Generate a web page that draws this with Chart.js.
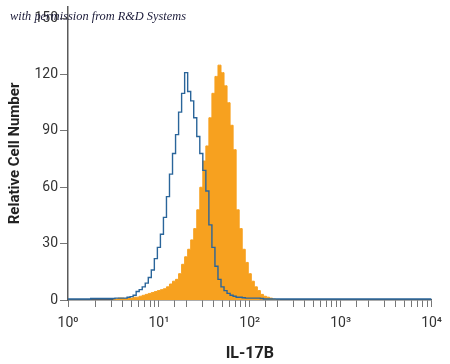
<!DOCTYPE html>
<html>
<head>
<meta charset="utf-8">
<script src="https://cdn.jsdelivr.net/npm/chart.js@4"></script>
<style>
  html, body { margin: 0; padding: 0; background: #ffffff; }
  #wrap { width: 450px; height: 364px; position: relative; }
</style>
</head>
<body>
<div id="wrap"><canvas id="c" width="450" height="364"></canvas></div>
<script>
// Bin positions (fluorescence intensity, log spaced)
const channels = [3.162, 3.415, 3.687, 3.981, 4.299, 4.642, 5.012, 5.412, 5.843, 6.310,
  6.813, 7.356, 7.943, 8.577, 9.261, 10.00, 10.80, 11.66, 12.59, 13.59,
  14.68, 15.85, 17.11, 18.48, 19.95, 21.54, 23.26, 25.12, 27.12, 29.29,
  31.62, 34.15, 36.87, 39.81, 42.99, 46.42, 50.12, 54.12, 58.43, 63.10,
  68.13, 73.56, 79.43, 85.77, 92.61, 100.0, 108.0, 116.6, 125.9, 135.9,
  146.8, 158.5, 171.1, 184.8, 199.5, 215.4];

// Isotype control (blue outline)
const isotypeCounts = [0.8, 1, 1, 1, 1, 1.5, 1.8, 2.5, 4.5, 5.5,
  7, 9, 12, 16, 22, 28, 35, 44, 55, 67,
  78, 88, 100, 110, 121, 111, 106, 97, 87, 78,
  69, 58, 40, 28, 18, 11, 7, 5, 3.5, 2.5,
  2, 1.5, 1.5, 1.2, 1, 1, 1, 1, 1, 0.8,
  0.5, 0.5, 0.5, 0.5, 0.5, 0.5];

// IL-17B stained (orange filled)
const il17bCounts = [0.3, 0.5, 1, 1, 0.8, 1, 1, 1.5, 1.5, 2,
  2.5, 3, 3.5, 4, 4.5, 5, 5.5, 6, 7, 8.5,
  10, 11, 14, 19, 23, 27, 32, 38, 48, 60,
  74, 82, 97, 110, 119, 125, 121, 114, 105, 93,
  80, 48, 38, 27, 20, 14, 10, 7, 5, 3,
  2, 1.5, 1, 0.5, 0, 0];

// Baseline level of the isotype trace outside the binned range
const baselineStart = { x: 1, y: 0.5 };
const baselineEnd = { x: 10000, y: 0.5 };

const yTicks = [0, 30, 60, 90, 120, 150];
const xTickValues = [1, 10, 100, 1000, 10000];
const xTickLabels = ['10\u2070', '10\u00B9', '10\u00B2', '10\u00B3', '10\u2074'];

const xTitle = 'IL-17B';
const yTitle = 'Relative Cell Number';
const watermark = 'with permission from R&D Systems';

const bluePts = [baselineStart].concat(channels.map((x, i) => ({ x: x, y: isotypeCounts[i] }))).concat([baselineEnd]);
const orangePts = channels.map((x, i) => ({ x: x, y: il17bCounts[i] }));

const FONT = '"Roboto", "Liberation Sans", sans-serif';

const watermarkPlugin = {
  id: 'watermark',
  afterDraw(chart) {
    const ctx = chart.ctx;
    ctx.save();
    ctx.font = 'italic 12.5px "Liberation Serif", "DejaVu Serif", serif';
    const w = ctx.measureText(watermark).width;
    const target = 176;
    const sx = target / w;
    ctx.translate(10, 20);
    ctx.scale(sx, 1);
    ctx.fillStyle = '#1c1c3a';
    ctx.textBaseline = 'alphabetic';
    ctx.fillText(watermark, 0, 0);
    ctx.restore();
  }
};

new Chart(document.getElementById('c'), {
  type: 'line',
  data: {
    datasets: [
      {
        label: 'Isotype',
        data: bluePts,
        borderColor: '#2a659a',
        borderWidth: 1.4,
        pointRadius: 0,
        fill: false,
        stepped: 'middle'
      },
      {
        label: 'IL-17B',
        data: orangePts,
        borderColor: '#f7a11f',
        backgroundColor: '#f7a11f',
        borderWidth: 1,
        pointRadius: 0,
        fill: 'origin',
        stepped: 'middle'
      }
    ]
  },
  options: {
    responsive: false,
    animation: false,
    layout: { padding: { top: 5, right: 18, left: 0, bottom: 0 } },
    plugins: { legend: { display: false }, tooltip: { enabled: false } },
    scales: {
      x: {
        type: 'logarithmic',
        min: 1,
        max: 10000,
        border: { display: true, color: '#5a5a5a', width: 1.5 },
        grid: { display: true, drawOnChartArea: false, drawTicks: true, tickLength: 7, color: '#777777', lineWidth: 1 },
        ticks: {
          autoSkip: false,
          maxRotation: 0,
          padding: 8,
          color: '#333333',
          font: { family: FONT, size: 14 },
          callback: function (value) {
            const k = xTickValues.indexOf(Number(value));
            return k >= 0 ? xTickLabels[k] : '';
          }
        },
        title: {
          display: true,
          text: xTitle,
          color: '#222222',
          font: { family: FONT, size: 16, weight: 'bold' },
          padding: { top: 0, bottom: 0 }
        },
        afterFit: function (scale) { scale.height = 64; }
      },
      y: {
        type: 'linear',
        min: 0,
        max: 156,
        border: { display: true, color: '#5a5a5a', width: 1.5 },
        grid: { display: true, drawOnChartArea: false, drawTicks: true, tickLength: 8, color: '#777777', lineWidth: 1 },
        afterBuildTicks: function (scale) { scale.ticks = yTicks.map(v => ({ value: v })); },
        ticks: {
          padding: 2,
          color: '#333333',
          font: { family: FONT, size: 14, lineHeight: 0.7 }
        },
        title: {
          display: true,
          text: yTitle,
          color: '#222222',
          font: { family: FONT, size: 15, weight: 'bold' },
          padding: { top: 6, bottom: 0 }
        },
        afterFit: function (scale) { scale.width = 68; }
      }
    }
  },
  plugins: [watermarkPlugin]
});
</script>
</body>
</html>
